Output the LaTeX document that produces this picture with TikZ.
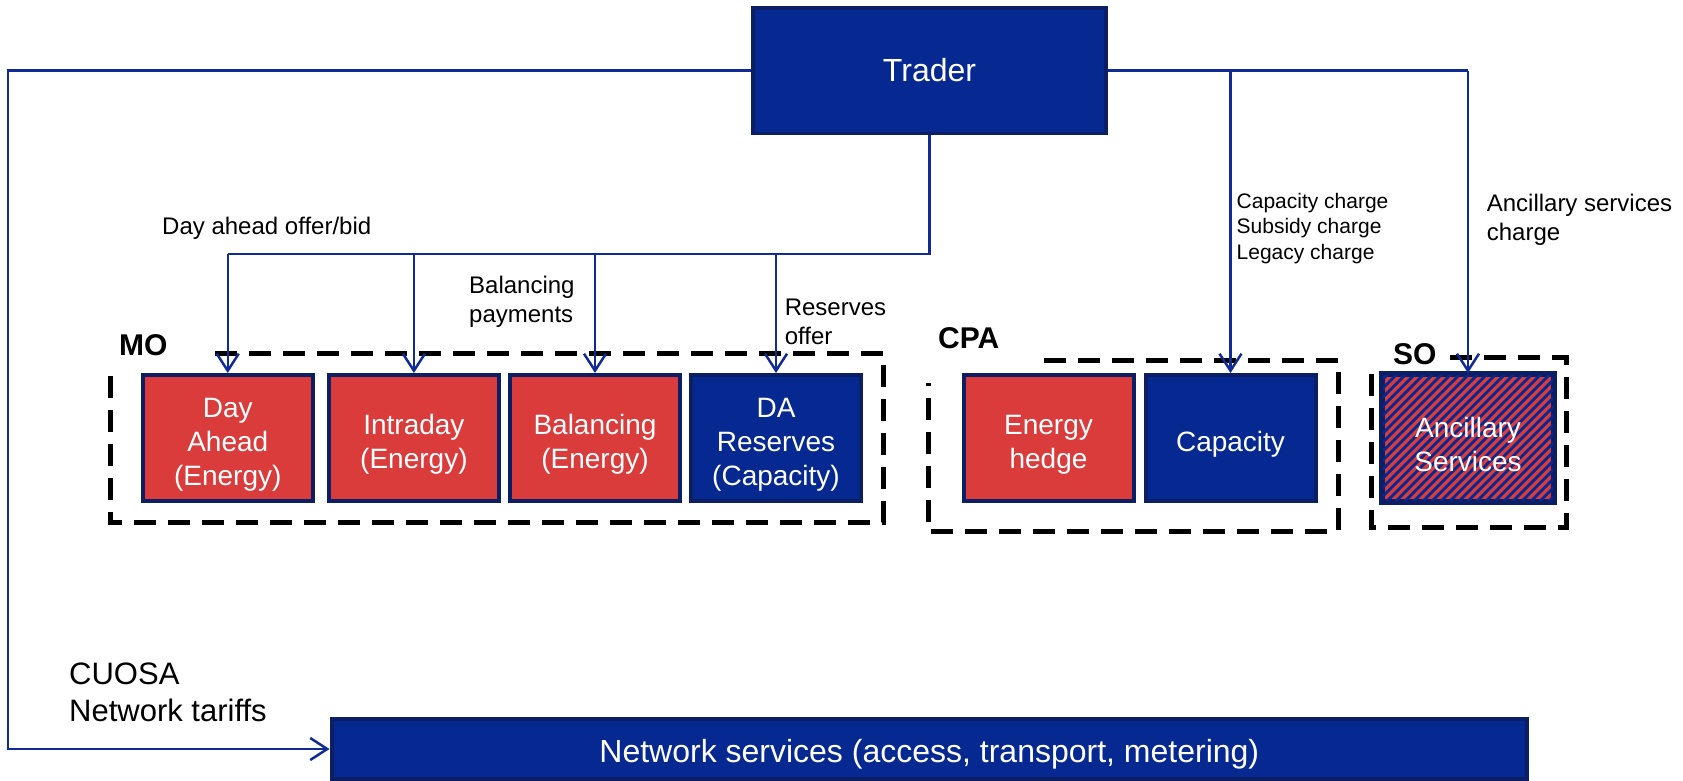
\documentclass[tikz,border=0pt]{standalone}
\usepackage{fontspec}
\setmainfont{Liberation Sans}
\usetikzlibrary{arrows.meta}
\definecolor{dblue}{RGB}{6,40,145}
\definecolor{navy}{RGB}{12,30,100}
\definecolor{bred}{RGB}{218,59,59}
\definecolor{lblue}{RGB}{16,42,150}
\newcommand\tu{\rule{0pt}{33pt}}
\begin{document}
\begin{tikzpicture}[x=1pt,y=-1pt,
  box/.style={draw=navy,line width=4pt,minimum width=170pt,minimum height=126pt,text=white,align=center,font=\fontsize{28}{34}\selectfont,inner sep=0pt},
  bluebox/.style={box,fill=dblue},
  redbox/.style={box,fill=bred},
  conn/.style={draw=lblue,line width=2.5pt},
  arr/.style={conn,-{Straight Barb[length=17pt,width=22pt,line width=2.5pt]}},
  grp/.style={draw=black,line width=5pt,dash pattern=on 22pt off 12pt},
  grplbl/.style={font=\fontsize{30}{36}\selectfont\bfseries,anchor=west,inner sep=0pt},
  lbl/.style={font=\fontsize{24}{29}\selectfont,align=left,inner sep=0pt,anchor=west}]
\useasboundingbox (0,0) rectangle (1683,780);
% group frames
\draw[grp] (215,353) -- (883,353) -- (883,522) -- (110,522) -- (110,375);
\draw[grp] (1044,360) -- (1338,360) -- (1338,531) -- (928,531) -- (928,383);
\draw[grp] (1450,357) -- (1566,357) -- (1566,527) -- (1371,527) -- (1371,363);
\node[grplbl] (molbl) at (119,345) {MO};
\node[grplbl] (cpalbl) at (938,338) {CPA};
\node[grplbl] (solbl) at (1393,354) {SO};
% main boxes
\node[bluebox,minimum width=353pt,minimum height=125.5pt,line width=3.5pt,font=\fontsize{32}{38}\selectfont] (trader) at (929.5,70.5) {Trader};
\node[bluebox,minimum width=1195.5pt,minimum height=60pt,font=\fontsize{32}{38}\selectfont] (net) at (929.3,749) {\tu Network services (access, transport, metering)};
\node[redbox] (da) at (227.75,438) {\tu Day\\Ahead\\(Energy)};
\node[redbox] (intra) at (413.9,438) {\tu Intraday\\(Energy)};
\node[redbox] (bal) at (595,438) {\tu Balancing\\(Energy)};
\node[bluebox] (dares) at (776,438) {\tu DA\\Reserves\\(Capacity)};
\node[redbox] (hedge) at (1048.5,438) {\tu Energy\\hedge};
\node[bluebox] (cap) at (1230.5,438) {\tu Capacity};
\node[box,fill=bred,text opacity=0] (anc) at (1468,438) {\tu Ancillary\\Services};
\begin{scope}
  \clip (anc.south west) rectangle (anc.north east);
  \foreach \i in {1220,1229,...,1570} \draw[dblue,line width=2.8pt] (\i,515) -- ++(160,-160);
\end{scope}
\draw[navy,line width=4pt] (anc.south west) rectangle (anc.north east);
\node[text=white,align=center,font=\fontsize{28}{34}\selectfont,inner sep=0pt] (anctext) at (anc.center) {\tu Ancillary\\Services};
% connectors
\coordinate (lt) at (8,70.5);
\coordinate (lb) at (8,749);
\draw[arr] (trader.west) -- (lt) -- (lb) -- (net.west);
\draw[conn] (trader.east) -- (anc.north |- trader.east);
\draw[arr] (cap.north |- trader.east) -- (cap.north);
\draw[arr] (anc.north |- trader.east) -- (anc.north);
\coordinate (hub) at (929.5,254);
\draw[conn] (trader.south) -- (hub) -- (da.north |- hub);
\draw[arr] (da.north |- hub) -- (da.north);
\draw[arr] (intra.north |- hub) -- (intra.north);
\draw[arr] (bal.north |- hub) -- (bal.north);
\draw[arr] (dares.north |- hub) -- (dares.north);
% labels
\node[lbl] (l1) at (162,228.6) {Day ahead offer/bid};
\node[lbl] (l2) at (469,301.6) {Balancing\\payments};
\node[lbl] (l3) at (784.6,322) {Reserves\\offer};
\node[lbl,font=\fontsize{21}{25.7}\selectfont] (l4) at (1236.5,228.5) {Capacity charge\\Subsidy charge\\Legacy charge};
\node[lbl] (l5) at (1486.6,219.5) {Ancillary services\\charge};
\node[lbl,font=\fontsize{31}{37}\selectfont] (l6) at (69,692) {CUOSA\\Network tariffs};
\end{tikzpicture}
\end{document}
